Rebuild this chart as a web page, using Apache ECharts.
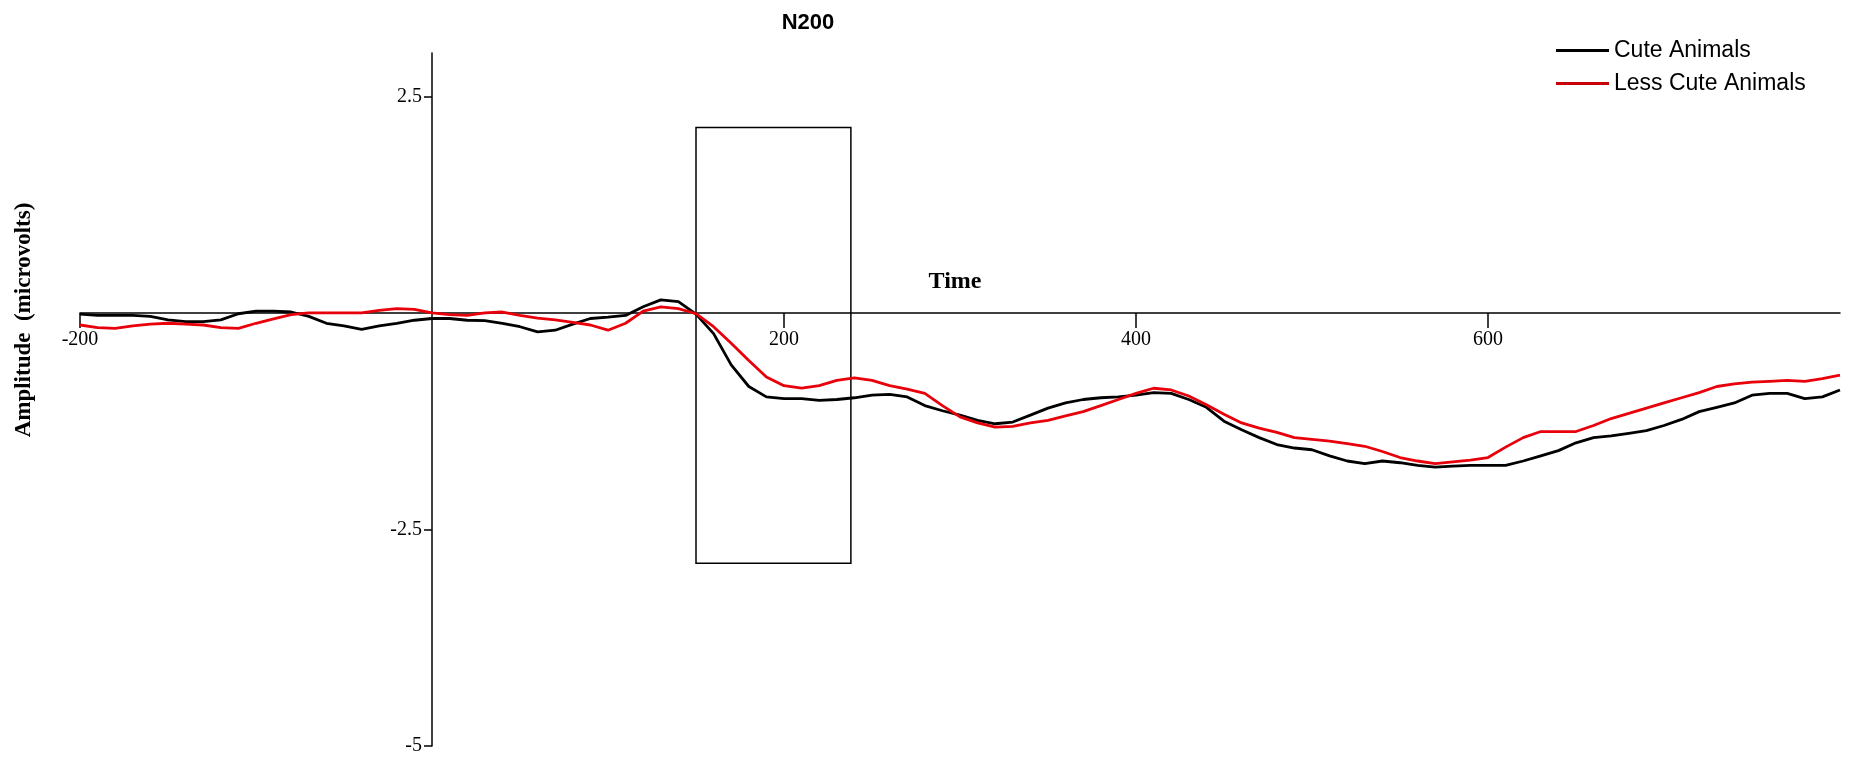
<!DOCTYPE html>
<html>
<head>
<meta charset="utf-8">
<script src="https://cdn.jsdelivr.net/npm/echarts@6/dist/echarts.min.js"></script>
<style>
html,body{margin:0;padding:0;background:#fff;}
#chart{width:1850px;height:764px;}
</style>
</head>
<body>
<div id="chart"></div>
<script>
// ---- data ----
var times = [];
for (var t = -200; t <= 800; t += 10) times.push(t);

var cuteAnimals = [
  -0.015,-0.03,-0.03,-0.03,-0.04,-0.08,-0.10,-0.10,-0.08,-0.01,
  0.02,0.02,0.01,-0.04,-0.12,-0.15,-0.19,-0.15,-0.12,-0.085,
  -0.065,-0.065,-0.085,-0.09,-0.12,-0.16,-0.22,-0.20,-0.13,-0.065,
  -0.05,-0.03,0.07,0.15,0.13,-0.015,-0.24,-0.60,-0.85,-0.97,
  -0.99,-0.99,-1.01,-1.00,-0.98,-0.95,-0.94,-0.97,-1.07,-1.13,
  -1.18,-1.24,-1.28,-1.26,-1.18,-1.10,-1.04,-1.00,-0.98,-0.97,
  -0.95,-0.92,-0.93,-1.00,-1.09,-1.25,-1.35,-1.44,-1.52,-1.56,
  -1.58,-1.65,-1.71,-1.74,-1.71,-1.73,-1.76,-1.78,-1.77,-1.76,
  -1.76,-1.76,-1.71,-1.65,-1.59,-1.50,-1.44,-1.42,-1.39,-1.36,
  -1.30,-1.23,-1.14,-1.09,-1.04,-0.95,-0.93,-0.93,-0.99,-0.97,
  -0.89
];

var lessCuteAnimals = [
  -0.14,-0.17,-0.18,-0.15,-0.13,-0.12,-0.13,-0.14,-0.17,-0.18,
  -0.12,-0.07,-0.02,0.00,0.00,0.00,0.00,0.03,0.05,0.04,
  0.00,-0.02,-0.03,0.00,0.01,-0.03,-0.06,-0.08,-0.11,-0.14,
  -0.20,-0.12,0.02,0.07,0.05,-0.01,-0.16,-0.35,-0.55,-0.74,
  -0.84,-0.87,-0.84,-0.78,-0.75,-0.78,-0.84,-0.88,-0.93,-1.07,
  -1.20,-1.27,-1.32,-1.31,-1.27,-1.24,-1.19,-1.14,-1.07,-1.00,
  -0.93,-0.87,-0.89,-0.96,-1.06,-1.17,-1.27,-1.33,-1.38,-1.44,
  -1.46,-1.48,-1.51,-1.54,-1.60,-1.67,-1.71,-1.74,-1.72,-1.70,
  -1.67,-1.55,-1.44,-1.37,-1.37,-1.37,-1.30,-1.22,-1.16,-1.10,
  -1.04,-0.98,-0.92,-0.85,-0.82,-0.80,-0.79,-0.78,-0.79,-0.76,
  -0.72
];

var seriesNames = ['Cute Animals', 'Less Cute Animals'];
var xTickValues = [-200, 200, 400, 600];
var yTickValues = [-5, -2.5, 2.5];
var boxTime = [150, 238];
var boxAmp = [2.14, -2.89];

// ---- chart ----
function pairs(xs, ys) {
  return xs.map(function (x, i) { return [x, ys[i]]; });
}

var chart = echarts.init(document.getElementById('chart'), null, {renderer: 'canvas'});

var serif = 'Liberation Serif';
var sans = 'Liberation Sans';
var X_MIN = -200, X_MAX = 800, Y_MIN = -5, Y_MAX = 3;

chart.setOption({
  animation: false,
  backgroundColor: '#fff',
  grid: {left: 80, right: 10, top: 53, bottom: 18, containLabel: false, outerBoundsMode: 'none'},
  legend: {
    orient: 'vertical',
    left: 1551,
    top: 34,
    itemWidth: 53,
    itemHeight: 3,
    itemGap: 10,
    textStyle: {fontFamily: sans, fontSize: 23, color: '#000'},
    data: [
      {name: seriesNames[0], icon: 'rect'},
      {name: seriesNames[1], icon: 'rect', itemStyle: {color: '#c8000a'}}
    ]
  },
  xAxis: {
    type: 'value',
    min: X_MIN,
    max: X_MAX,
    interval: 200,
    position: 'bottom',
    offset: 0,
    splitLine: {show: false},
    axisLine: {onZero: false, lineStyle: {color: '#000', width: 1.5}},
    axisTick: {show: true, length: 15, customValues: xTickValues, lineStyle: {color: '#000', width: 1.5}},
    axisLabel: {
      customValues: xTickValues,
      margin: 17,
      fontFamily: serif,
      fontSize: 20,
      color: '#000'
    }
  },
  yAxis: {
    type: 'value',
    min: Y_MIN,
    max: Y_MAX,
    interval: 2.5,
    position: 'left',
    offset: 0,
    splitLine: {show: false},
    axisLine: {onZero: false, lineStyle: {color: '#000', width: 1.5}},
    axisTick: {show: true, length: 8, customValues: yTickValues, lineStyle: {color: '#000', width: 1.5}},
    axisLabel: {
      customValues: yTickValues,
      margin: 10,
      fontFamily: serif,
      fontSize: 20,
      color: '#000'
    }
  },
  graphic: [
    {
      type: 'text', x: 808, y: 23,
      style: {text: 'N200', fontFamily: sans, fontSize: 22, fontWeight: 'bold', fill: '#000',
              align: 'center', verticalAlign: 'middle', textAlign: 'center', textVerticalAlign: 'middle'}
    },
    {
      type: 'text', x: 955, y: 282,
      style: {text: 'Time', fontFamily: serif, fontSize: 24, fontWeight: 'bold', fill: '#000',
              align: 'center', verticalAlign: 'middle', textAlign: 'center', textVerticalAlign: 'middle'}
    },
    {
      type: 'text', x: 24, y: 320, rotation: Math.PI / 2,
      style: {text: 'Amplitude  (microvolts)', fontFamily: serif, fontSize: 23, fontWeight: 'bold', fill: '#000',
              align: 'center', verticalAlign: 'middle', textAlign: 'center', textVerticalAlign: 'middle'}
    }
  ],
  series: [
    {
      name: seriesNames[0],
      type: 'line',
      data: pairs(times, cuteAnimals),
      showSymbol: false,
      symbol: 'none',
      smooth: false,
      color: '#000000',
      lineStyle: {color: '#000000', width: 2.8},
      z: 3,
      markArea: {
        silent: true,
        itemStyle: {color: 'rgba(0,0,0,0)', borderColor: '#000', borderWidth: 1.5},
        data: [[{xAxis: boxTime[0], yAxis: boxAmp[0]}, {xAxis: boxTime[1], yAxis: boxAmp[1]}]]
      }
    },
    {
      name: seriesNames[1],
      type: 'line',
      data: pairs(times, lessCuteAnimals),
      showSymbol: false,
      symbol: 'none',
      smooth: false,
      color: '#e8000a',
      lineStyle: {color: '#e8000a', width: 2.8},
      z: 4
    }
  ]
});

// Move both axes (line, ticks and labels) so they cross at zero, using the library's own scale.
for (var pass = 0; pass < 3; pass++) {
  var zero = chart.convertToPixel({gridIndex: 0}, [0, 0]);
  var corner = chart.convertToPixel({gridIndex: 0}, [X_MIN, Y_MIN]);
  chart.setOption({
    xAxis: {offset: zero[1] - corner[1]},
    yAxis: {offset: corner[0] - zero[0]}
  });
}
</script>
</body>
</html>
